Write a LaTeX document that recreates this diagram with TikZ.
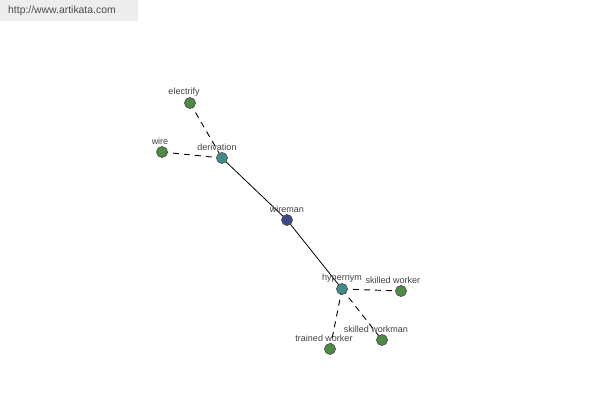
\documentclass[tikz,border=0pt]{standalone}
\usepackage{fontspec}
\setmainfont{Liberation Sans}
\begin{document}
\begin{tikzpicture}[x=1pt,y=-1pt,
  vtx/.style={circle,draw=black!70,line width=0.7pt,minimum size=11pt,inner sep=0pt},
  lbl/.style={font=\fontsize{9}{10}\selectfont,text=black!75,inner sep=0pt},
  dashedge/.style={draw=black,line width=0.9pt,dash pattern=on 6pt off 5pt},
  solidedge/.style={draw=black,line width=0.8pt}]
\useasboundingbox (0,0) rectangle (600,400);
\fill[white] (0,0) rectangle (600,400);
\fill[black!7] (0,0) rectangle (138,21);
\node[anchor=west,font=\fontsize{10.4}{12}\selectfont,text=black!70,inner sep=0pt] (wm) at (8,11) {http://www.artikata.com};
\definecolor{gr}{RGB}{78,140,70}
\definecolor{te}{RGB}{62,140,140}
\definecolor{bl}{RGB}{62,74,140}
\coordinate (pe) at (190,103);
\coordinate (pw) at (162,152);
\coordinate (pd) at (222,158);
\coordinate (pm) at (287,220);
\coordinate (ph) at (342,289);
\coordinate (ps) at (401,291);
\coordinate (pk) at (382,340);
\coordinate (pt) at (330,349);
\draw[dashedge] (pe) -- (pd);
\draw[dashedge] (pw) -- (pd);
\draw[solidedge] (pd) -- (pm);
\draw[solidedge] (pm) -- (ph);
\draw[dashedge] (ph) -- (ps);
\draw[dashedge] (ph) -- (pk);
\draw[dashedge] (ph) -- (pt);
\node[vtx,fill=gr] (electrify) at (pe) {};
\node[vtx,fill=gr] (wire) at (pw) {};
\node[vtx,fill=te] (derivation) at (pd) {};
\node[vtx,fill=bl] (wireman) at (pm) {};
\node[vtx,fill=te] (hypernym) at (ph) {};
\node[vtx,fill=gr] (skw) at (ps) {};
\node[vtx,fill=gr] (skm) at (pk) {};
\node[vtx,fill=gr] (trw) at (pt) {};
\node[lbl] (l1) at (184,92) {electrify};
\node[lbl] (l2) at (160,141) {wire};
\node[lbl] (l3) at (217,147) {derivation};
\node[lbl] (l4) at (287,209) {wireman};
\node[lbl] (l5) at (342,278) {hypernym};
\node[lbl] (l6) at (393,280) {skilled worker};
\node[lbl] (l7) at (376,329) {skilled workman};
\node[lbl] (l8) at (324,338) {trained worker};
\end{tikzpicture}
\end{document}
